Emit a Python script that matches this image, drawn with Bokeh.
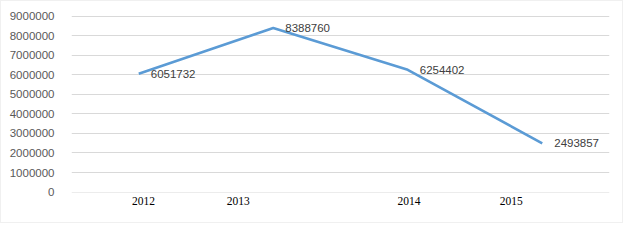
from bokeh.plotting import figure
from bokeh.models import ColumnDataSource, FixedTicker, Range1d, LabelSet
from bokeh.core.properties import value
from bokeh.embed import file_html
from bokeh.resources import INLINE

years = ["2012", "2013", "2014", "2015"]
values = [6051732, 8388760, 6254402, 2493857]
y_ticks = [0, 1000000, 2000000, 3000000, 4000000, 5000000, 6000000, 7000000, 8000000, 9000000]

# style: category centres and (offset) positions of the year labels
xpos = [i + 0.5 for i in range(len(years))]
label_pos = [0.535, 1.24, 2.51, 3.27]

src = ColumnDataSource(dict(x=xpos, y=values, lab=[str(v) for v in values]))

p = figure(width=623, height=223, output_backend="svg", toolbar_location=None,
           x_range=Range1d(0, 4), y_range=Range1d(-20000, 9030000),
           min_border_left=70, min_border_right=15, min_border_top=14, min_border_bottom=32)
p.styles = {"border": "1px solid #f0f0f0"}
p.outline_line_color = None
p.background_fill_color = "white"
p.border_fill_color = "white"

p.line("x", "y", source=src, line_color="#5B9BD5", line_width=2.6)

labels = LabelSet(x="x", y="y", text="lab", source=src, x_offset=12, y_offset=0,
                  text_baseline="middle", text_align="left",
                  text_font=value("Liberation Sans"), text_font_size=value("11.5px"),
                  text_color=value("#404040"))
p.add_layout(labels)

p.yaxis.ticker = FixedTicker(ticks=y_ticks)
p.yaxis.formatter.use_scientific = False
p.yaxis.major_label_text_font = "Liberation Sans"
p.yaxis.major_label_text_font_size = "11.5px"
p.yaxis.major_label_text_color = "#595959"
p.yaxis.major_label_standoff = 11
p.yaxis.axis_line_color = None
p.yaxis.major_tick_line_color = None
p.yaxis.minor_tick_line_color = None

p.xaxis.ticker = FixedTicker(ticks=label_pos)
p.xaxis.major_label_overrides = {label_pos[i]: years[i] for i in range(len(years))}
p.xaxis.major_label_text_font = "Liberation Serif"
p.xaxis.major_label_text_font_size = "11.5px"
p.xaxis.major_label_text_color = "black"
p.xaxis.major_label_standoff = 4
p.xaxis.major_tick_out = 0
p.xaxis.major_tick_in = 0
p.xaxis.axis_line_color = None
p.xaxis.major_tick_line_color = None
p.xaxis.minor_tick_line_color = None

p.xgrid.grid_line_color = None
p.ygrid.ticker = FixedTicker(ticks=y_ticks)
p.ygrid.grid_line_color = "#D9D9D9"
p.ygrid.grid_line_width = 1

open("out.html", "w").write(file_html(p, INLINE))
